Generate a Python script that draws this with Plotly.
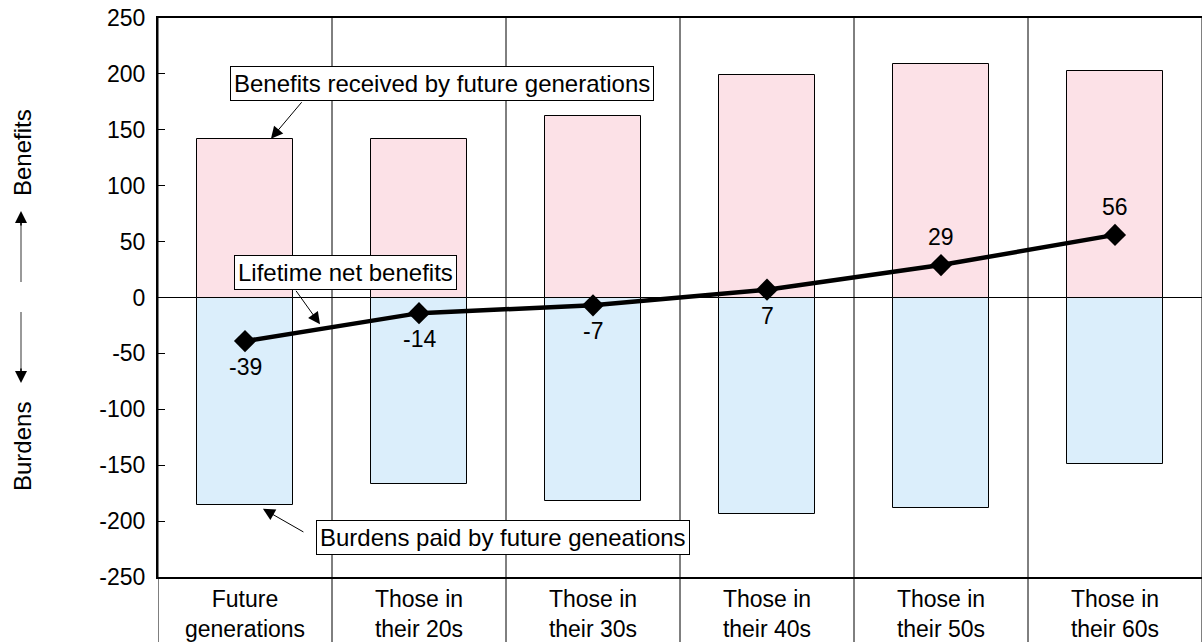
import plotly.graph_objects as go

# Generational accounting: lifetime benefits vs burdens per generation
categories = ["Future<br>generations", "Those in<br>their 20s", "Those in<br>their 30s",
              "Those in<br>their 40s", "Those in<br>their 50s", "Those in<br>their 60s"]
benefits = [142, 142, 162, 199, 209, 203]
burdens = [-186, -167, -182, -194, -188, -149]
net_benefits = [-39, -14, -7, 7, 29, 56]
net_label_above = [False, False, False, False, True, True]
y_ticks = [-250, -200, -150, -100, -50, 0, 50, 100, 150, 200, 250]

FONT = "Liberation Sans, Arial, Helvetica, sans-serif"
FS = 24
PINK = "#fce1e7"
BLUE = "#dbeefb"

x = list(range(len(categories)))

fig = go.Figure()
fig.add_trace(go.Bar(x=x, y=benefits, width=0.55, marker=dict(color=PINK, line=dict(color="black", width=1)),
                     showlegend=False, hoverinfo="skip"))
fig.add_trace(go.Bar(x=x, y=burdens, width=0.55, marker=dict(color=BLUE, line=dict(color="black", width=1)),
                     showlegend=False, hoverinfo="skip"))
fig.add_trace(go.Scatter(x=x, y=net_benefits, mode="lines+markers",
                         line=dict(color="black", width=4.5),
                         marker=dict(symbol="diamond", size=17, color="black"),
                         showlegend=False, hoverinfo="skip"))

# Column separators, running down through the category row
shapes = []
for i in range(len(categories) + 1):
    shapes.append(dict(type="line", xref="x", yref="paper", x0=i - 0.5, x1=i - 0.5,
                       y0=-0.13, y1=1, line=dict(color="black", width=1), layer="below"))


def py(pix):
    return (577 - pix) / 559


def px(pix):
    return (pix - 158) / 1044


# Shafts of the Benefits / Burdens direction arrows
shapes.append(dict(type="line", xref="paper", yref="paper", x0=px(21), x1=px(21),
                   y0=py(282), y1=py(220), line=dict(color="#777", width=1.5)))
shapes.append(dict(type="line", xref="paper", yref="paper", x0=px(21), x1=px(21),
                   y0=py(312), y1=py(374), line=dict(color="#777", width=1.5)))

box = dict(bgcolor="white", bordercolor="black", borderwidth=1, borderpad=3,
           font=dict(family=FONT, size=FS, color="black"), showarrow=False,
           xanchor="center", yanchor="middle")
pointer = dict(text="", showarrow=True, arrowhead=2, arrowsize=2.4, arrowwidth=1,
               arrowcolor="black", standoff=0)

annotations = [
    dict(x=1.135, y=191, xref="x", yref="y", text="Benefits received by future generations", **box),
    dict(x=0.58, y=22.8, xref="x", yref="y", text="Lifetime net benefits", **box),
    dict(x=1.48, y=-214.7, xref="x", yref="y", text="Burdens paid by future geneations", **box),
    # pointer arrows from the callouts
    dict(x=0.149, y=142, xref="x", yref="y", ax=32, ay=-38, **pointer),
    dict(x=0.431, y=-24, xref="x", yref="y", ax=-25, ay=-35, **pointer),
    dict(x=0.103, y=-189, xref="x", yref="y", ax=42, ay=24, **pointer),
    # rotated side captions
    dict(x=px(22), y=py(153), xref="paper", yref="paper", text="Benefits", textangle=-90,
         xanchor="center", yanchor="middle", showarrow=False,
         font=dict(family=FONT, size=FS, color="black")),
    dict(x=px(22), y=py(447), xref="paper", yref="paper", text="Burdens", textangle=-90,
         xanchor="center", yanchor="middle", showarrow=False,
         font=dict(family=FONT, size=FS, color="black")),
    # arrow heads of the side captions
    dict(x=px(21), y=py(211), xref="paper", yref="paper", ax=0, ay=16,
         text="", showarrow=True, arrowhead=2, arrowsize=1.6, arrowwidth=1.5,
         arrowcolor="black", standoff=0),
    dict(x=px(21), y=py(383), xref="paper", yref="paper", ax=0, ay=-16,
         text="", showarrow=True, arrowhead=2, arrowsize=1.6, arrowwidth=1.5,
         arrowcolor="black", standoff=0),
    # unit caption above the frame
    dict(x=px(200), y=py(2), xref="paper", yref="paper", text="(10,000 yen)",
         xanchor="right", yanchor="bottom", showarrow=False,
         font=dict(family=FONT, size=FS, color="black")),
]

# Value labels for the net-benefit line
for xi, v, above in zip(x, net_benefits, net_label_above):
    annotations.append(dict(x=xi, y=v, xref="x", yref="y", text=str(v), showarrow=False,
                            xanchor="center", yanchor="middle", yshift=28 if above else -26,
                            font=dict(family=FONT, size=23, color="black")))

fig.update_layout(
    width=1202, height=642,
    margin=dict(l=158, r=0, t=18, b=65),
    paper_bgcolor="white", plot_bgcolor="white",
    barmode="relative", bargap=0,
    font=dict(family=FONT, size=FS, color="black"),
    shapes=shapes, annotations=annotations,
    xaxis=dict(range=[-0.5, 5.5], tickvals=x, ticktext=categories, tickangle=0,
               showline=True, linecolor="black", linewidth=2, mirror=True, automargin=False,
               showgrid=False, zeroline=False, ticks="", ticklabelstandoff=0,
               tickfont=dict(family=FONT, size=23, color="black")),
    yaxis=dict(range=[-250, 250], tickvals=y_ticks, ticktext=[str(t) for t in y_ticks],
               showline=True, linecolor="black", linewidth=2, automargin=False,
               showgrid=False, zeroline=True, zerolinecolor="black", zerolinewidth=1,
               ticks="inside", ticklen=7, tickwidth=1, tickcolor="black", ticklabelstandoff=6,
               tickfont=dict(family=FONT, size=23, color="black")),
)

fig.write_html("out.html")
